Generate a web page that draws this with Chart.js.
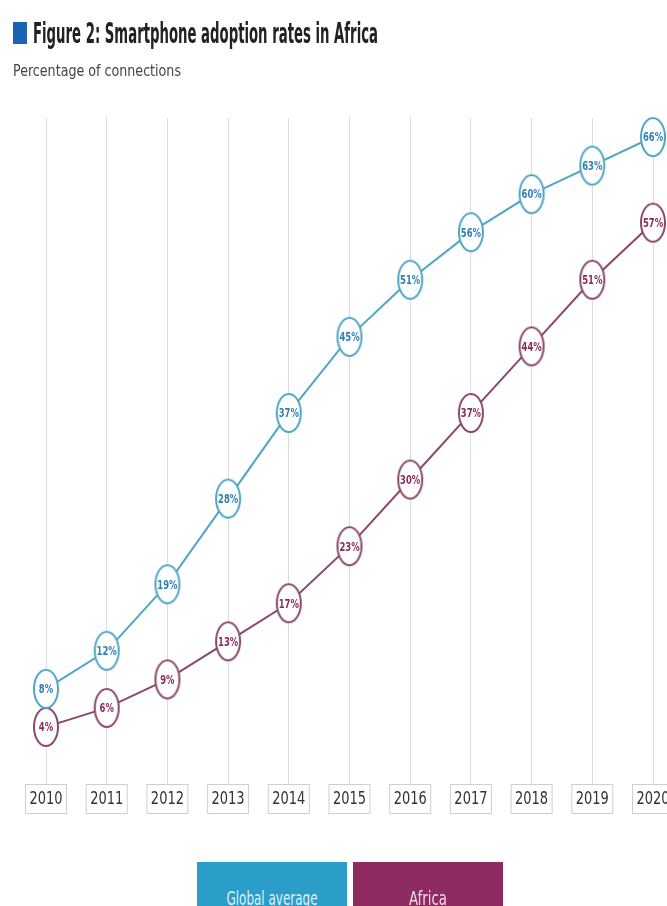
<!DOCTYPE html>
<html>
<head>
<meta charset="utf-8">
<script src="https://cdn.jsdelivr.net/npm/chart.js@4.4.0/dist/chart.umd.min.js"></script>
<style>
  html, body { margin: 0; padding: 0; background: #fff; }
  body { width: 667px; height: 906px; position: relative; overflow: hidden; font-family: 'Liberation Sans Narrow', 'DejaVu Sans Condensed', 'Liberation Sans', sans-serif; }
  #chartWrap { position: absolute; left: 0; top: 0; width: 667px; height: 906px; }
  .fit { position: absolute; white-space: nowrap; transform-origin: 0 0; }
  #mark { position: absolute; left: 13px; top: 22px; width: 14px; height: 22px; background: #1d63b5; }
  #title { left: 33px; top: 17px; font-size: 28px; font-weight: bold; color: #222; }
  #subtitle { left: 13px; top: 61px; font-size: 16px; color: #444; }
  .legend { position: absolute; top: 862px; width: 150px; height: 50px; color: #dff1f8; font-size: 20px; }
  .legend span { position: absolute; left: 50%; top: 24px; white-space: nowrap; transform-origin: 0 0; }
</style>
</head>
<body>
<div id="chartWrap"><canvas id="chart" width="667" height="906"></canvas></div>
<div id="mark"></div>
<div id="title" class="fit" data-w="345">Figure 2: Smartphone adoption rates in Africa</div>
<div id="subtitle" class="fit" data-w="168">Percentage of connections</div>
<div class="legend" style="left:197px;background:#2b9dc9;"><span data-w="91">Global average</span></div>
<div class="legend" style="left:353px;background:#8e2b60;color:#f3dce8;"><span data-w="38">Africa</span></div>

<script>
// data
const years = ['2010', '2011', '2012', '2013', '2014', '2015', '2016', '2017', '2018', '2019', '2020'];
const globalAverage = [8, 12, 19, 28, 37, 45, 51, 56, 60, 63, 66];
const africa = [4, 6, 9, 13, 17, 23, 30, 37, 44, 51, 57];

const blueLine = '#4ea6c4';
const blueText = '#2f7fb6';
const purpleLine = '#8a4868';
const purpleText = '#8a2a5a';
const narrow = "'Liberation Sans Narrow', 'DejaVu Sans Condensed', 'Liberation Sans', sans-serif";

// squeeze html text to the width it has in the picture
document.querySelectorAll('.fit').forEach(el => {
    const w = el.getBoundingClientRect().width;
    el.style.transform = 'scaleX(' + (el.dataset.w / w) + ')';
});
document.querySelectorAll('.legend span').forEach(el => {
    const w = el.getBoundingClientRect().width;
    const s = el.dataset.w / w;
    el.style.transform = 'scaleX(' + s + ') translateX(-50%)';
});

// oval markers, the picture is squeezed sideways
function ovalMarker(color) {
    const c = document.createElement('canvas');
    c.width = 28;
    c.height = 42;
    const g = c.getContext('2d');
    g.beginPath();
    g.ellipse(14, 21, 12, 19, 0, 0, Math.PI * 2);
    g.fillStyle = '#fff';
    g.fill();
    g.lineWidth = 2;
    g.strokeStyle = color;
    g.stroke();
    return c;
}

function squeezedText(ctx, text, x, y, sx) {
    ctx.save();
    ctx.translate(x, y);
    ctx.scale(sx, 1);
    ctx.fillText(text, 0, 0);
    ctx.restore();
}

// value labels inside the markers
const pointLabels = {
    id: 'pointLabels',
    afterDatasetsDraw(chart) {
        const ctx = chart.ctx;
        ctx.save();
        ctx.font = 'bold 13px ' + narrow;
        ctx.textAlign = 'center';
        ctx.textBaseline = 'middle';
        chart.data.datasets.forEach((ds, i) => {
            ctx.fillStyle = i === 0 ? blueText : purpleText;
            chart.getDatasetMeta(i).data.forEach((pt, j) => {
                squeezedText(ctx, ds.data[j] + '%', pt.x, pt.y + 1, 0.72);
            });
        });
        ctx.restore();
    }
};

// boxed year labels under the grid lines
const yearBoxes = {
    id: 'yearBoxes',
    afterDraw(chart) {
        const ctx = chart.ctx;
        const xs = chart.scales.x;
        const top = chart.chartArea.bottom;
        ctx.save();
        ctx.font = '17px ' + narrow;
        ctx.textAlign = 'center';
        ctx.textBaseline = 'middle';
        years.forEach((y, i) => {
            const x = xs.getPixelForTick(i);
            ctx.fillStyle = '#fff';
            ctx.fillRect(x - 21, top, 42, 30);
            ctx.strokeStyle = '#cfcfcf';
            ctx.lineWidth = 1;
            ctx.strokeRect(x - 20.5, top + 0.5, 41, 29);
            ctx.fillStyle = '#333';
            squeezedText(ctx, y, x, top + 16, 0.85);
        });
        ctx.restore();
    }
};

new Chart(document.getElementById('chart'), {
    type: 'line',
    data: {
        labels: years,
        datasets: [
            {
                label: 'Global average',
                data: globalAverage,
                borderColor: blueLine,
                borderWidth: 2,
                pointStyle: ovalMarker(blueLine),
                pointRadius: 19,
                clip: false,
                tension: 0
            },
            {
                label: 'Africa',
                data: africa,
                borderColor: purpleLine,
                borderWidth: 2,
                pointStyle: ovalMarker(purpleLine),
                pointRadius: 19,
                clip: false,
                tension: 0
            }
        ]
    },
    options: {
        responsive: false,
        animation: false,
        events: [],
        layout: {
            autoPadding: false,
            padding: { left: 46, right: 14, top: 118, bottom: 122 }
        },
        plugins: {
            legend: { display: false },
            tooltip: { enabled: false }
        },
        scales: {
            x: {
                grid: { color: '#dcdcdc', lineWidth: 1, drawTicks: false },
                border: { display: false },
                ticks: { display: false },
                afterFit(scale) { scale.height = 0; }
            },
            y: {
                display: false,
                min: -2,
                max: 68
            }
        }
    },
    plugins: [pointLabels, yearBoxes]
});
</script>
</body>
</html>
